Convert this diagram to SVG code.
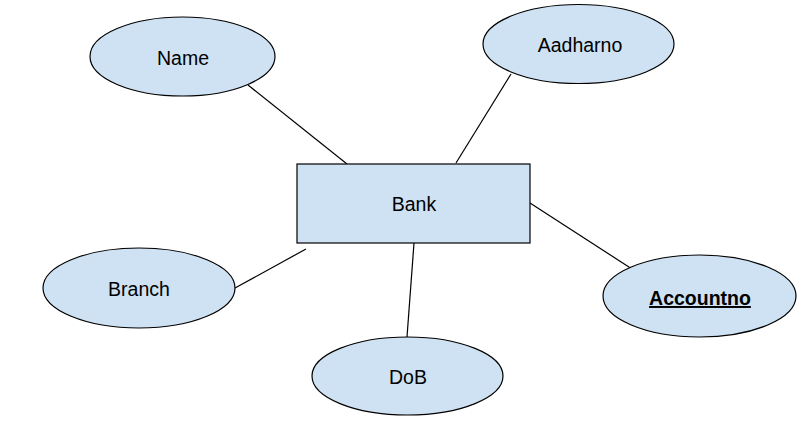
<svg xmlns="http://www.w3.org/2000/svg" width="800" height="424" viewBox="0 0 800 424">
<style>
.shape{fill:#cfe2f3;stroke:#000;stroke-width:1.2}
.lbl{font-family:"Liberation Sans",Arial,sans-serif;font-size:19.5px;fill:#000;text-anchor:middle}
.conn line{stroke:#000;stroke-width:1.2}
</style>
<rect width="800" height="424" fill="#fff"/>
<g id="connectors" class="conn">
<line x1="248" y1="85" x2="347" y2="164"/>
<line x1="511" y1="74" x2="456" y2="163"/>
<line x1="530" y1="203" x2="632" y2="269"/>
<line x1="235" y1="288" x2="306" y2="249"/>
<line x1="414" y1="243" x2="407" y2="337"/>
</g>
<g id="bank">
<rect class="shape" x="297" y="164" width="233" height="79"/>
<text class="lbl" x="414" y="211">Bank</text>
</g>
<g id="name">
<ellipse class="shape" cx="182.5" cy="56.5" rx="92.5" ry="39.5"/>
<text class="lbl" x="183" y="65">Name</text>
</g>
<g id="aadharno">
<ellipse class="shape" cx="578.5" cy="44" rx="95.5" ry="39.5"/>
<text class="lbl" x="580" y="52">Aadharno</text>
</g>
<g id="branch">
<ellipse class="shape" cx="139" cy="288" rx="96" ry="40"/>
<text class="lbl" x="139" y="296">Branch</text>
</g>
<g id="accountno">
<ellipse class="shape" cx="699.5" cy="296" rx="96.5" ry="41"/>
<text class="lbl" x="700" y="305" font-weight="bold" text-decoration="underline">Accountno</text>
</g>
<g id="dob">
<ellipse class="shape" cx="407.5" cy="376" rx="95.5" ry="39"/>
<text class="lbl" x="408" y="384">DoB</text>
</g>
</svg>
